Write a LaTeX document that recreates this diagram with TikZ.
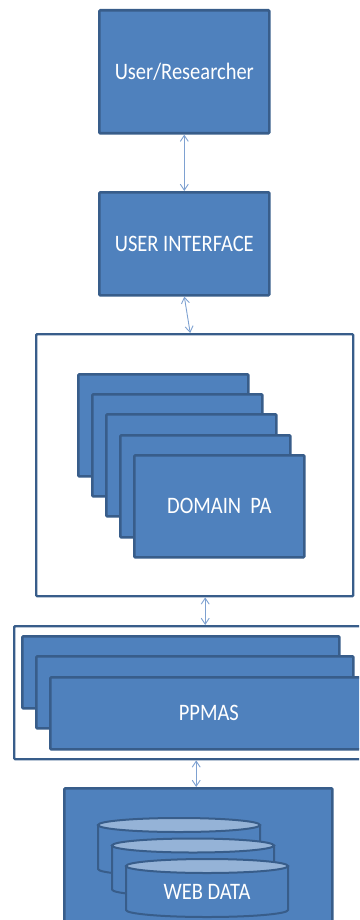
\documentclass[tikz,border=0pt]{standalone}
\usepackage{fontspec}
\setmainfont{Carlito}
\usetikzlibrary{arrows.meta}
\definecolor{fillblue}{HTML}{4F81BD}
\definecolor{edgeblue}{HTML}{385D8A}
\definecolor{topblue}{HTML}{95B3D7}
\definecolor{arrowblue}{HTML}{7EA1D1}
\newcommand{\tallText}[1]{\scalebox{1}[1.15]{#1}}
\begin{document}
\begin{tikzpicture}[x=1pt,y=-1pt,
  bluebox/.style={draw=edgeblue, fill=fillblue, line width=2.6pt, rounded corners=1pt,
    text=white, font=\fontsize{20.5}{24}\selectfont, inner sep=0pt, anchor=north west},
  framebox/.style={draw=edgeblue, fill=white, line width=2.4pt, rounded corners=1pt,
    inner sep=0pt, anchor=north west},
  link/.style={draw=arrowblue, line width=0.9pt,
    {Straight Barb[length=6pt,width=8pt]}-{Straight Barb[length=6pt,width=8pt]}},
  cylbody/.style={fill=fillblue, draw=edgeblue, line width=2pt},
  cyltop/.style={fill=topblue, draw=edgeblue, line width=2pt},
  lbl/.style={text=white, font=\fontsize{20.5}{24}\selectfont, inner sep=0pt}]
\useasboundingbox (0,0) rectangle (359,920);
\clip (0,0) rectangle (359,920);

% top boxes
\node[bluebox, minimum width=170pt, minimum height=123pt] (user) at (98,9) {\tallText{User/Researcher}};
\node[bluebox, minimum width=170pt, minimum height=103pt] (ui) at (98,191) {\tallText{USER INTERFACE}};

% domain frame with stacked boxes
\node[framebox, minimum width=317pt, minimum height=262pt] (dom) at (35,333) {};
\node[bluebox, minimum width=170pt, minimum height=102pt] (d1) at (77,373) {};
\node[bluebox, minimum width=170pt, minimum height=102pt] (d2) at (91,393) {};
\node[bluebox, minimum width=170pt, minimum height=102pt] (d3) at (105,413) {};
\node[bluebox, minimum width=170pt, minimum height=102pt] (d4) at (119,434) {};
\node[bluebox, minimum width=170pt, minimum height=102pt] (d5) at (133,454) {\tallText{DOMAIN\ \ PA}};

% PPMAS frame
\node[framebox, minimum width=400pt, minimum height=133pt] (ppm) at (13,625) {};
\node[bluebox, minimum width=317pt, minimum height=72pt] (p1) at (21,635) {};
\node[bluebox, minimum width=317pt, minimum height=72pt] (p2) at (35,655) {};
\node[bluebox, minimum width=317pt, minimum height=72pt] (p3) at (49,676) {\tallText{PPMAS}};

% web data
\node[bluebox, minimum width=268pt, minimum height=140pt] (web) at (63,787) {};
\foreach \i in {0,1,2}{
  \pgfmathsetmacro\cl{98+14*\i}
  \pgfmathsetmacro\ct{818+20.5*\i}
  \filldraw[cylbody] (\cl,\ct+7) -- (\cl,\ct+51)
     arc[start angle=180,end angle=0,x radius=81,y radius=7]
     -- (\cl+162,\ct+7) -- cycle;
  \filldraw[cyltop] (\cl+81,\ct+7) ellipse[x radius=81,y radius=7];
}
\node[lbl] (wd) at (207,892) {\tallText{WEB DATA}};

% connectors
\draw[link] (user.south) -- (ui.north);
\draw[link] (ui.south) -- ([xshift=-4.5pt]dom.north);
\draw[link] ([xshift=10.5pt]dom.south) -- ([xshift=10.5pt]dom.south |- ppm.north);
\draw[link] ([xshift=-18pt]ppm.south) -- ([xshift=-18pt]ppm.south |- web.north);
\end{tikzpicture}
\end{document}
